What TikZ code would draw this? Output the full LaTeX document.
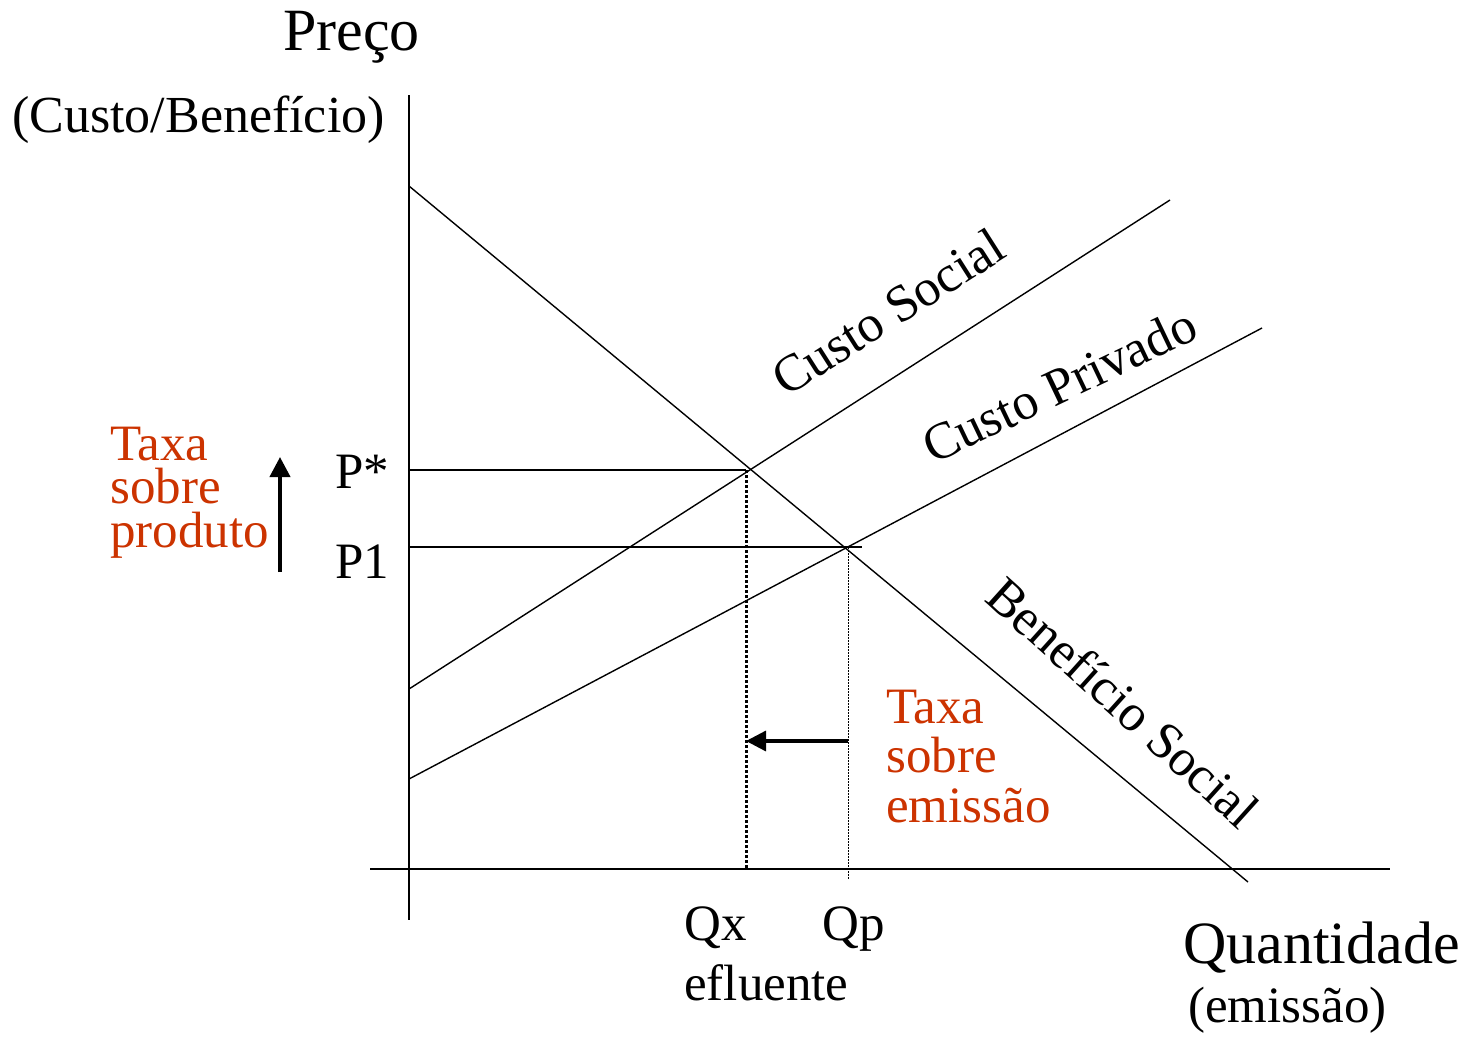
\documentclass[tikz,border=0pt]{standalone}
\usepackage{fontspec}
\setmainfont{Liberation Serif}
\usetikzlibrary{arrows.meta}
\definecolor{taxared}{RGB}{204,51,0}

\begin{document}
\begin{tikzpicture}[
      x=1pt, y=-1pt,
      every node/.style = {inner sep=0pt, anchor=base west, font=\fontsize{51}{51}\selectfont},
      axis/.style       = {line width=1.8pt},
      curve/.style      = {line width=1.4pt},
      level/.style      = {line width=1.4pt},
      taxa/.style       = {text=taxared, align=left},
      curvelabel/.style = {font=\fontsize{52}{52}\selectfont},
      taxarrow/.style   = {-{Triangle[length=20pt,width=20pt]}}
    ]
    \useasboundingbox[fill=white] (0,0) rectangle (1468,1042);

    % axes
    \coordinate (ytop)   at (409,95);
    \coordinate (ybot)   at (409,920);
    \coordinate (xleft)  at (370,869);
    \coordinate (xright) at (1390,869);
    \draw[axis] (ytop)  -- (ybot);
    \draw[axis] (xleft) -- (xright);

    % curves
    \coordinate (benstart)  at (409,186);
    \coordinate (benend)    at (1248,882);
    \coordinate (socstart)  at (409,689);
    \coordinate (socend)    at (1170,200);
    \coordinate (privstart) at (409,779);
    \coordinate (privend)   at (1262,328);
    \draw[curve] (benstart)  -- (benend);
    \draw[curve] (socstart)  -- (socend);
    \draw[curve] (privstart) -- (privend);

    % equilibria
    \coordinate (pstar)  at (746,470);
    \coordinate (pone)   at (848,547);
    \coordinate (pstary) at (409,470);
    \coordinate (poney)  at (409,547);
    \coordinate (poneend) at (862,547);
    \coordinate (qx)     at (746,869);
    \coordinate (qp)     at (848,880);
    \draw[level] (pstary) -- (pstar);
    \draw[level] (poney)  -- (poneend);
    \draw[line width=3pt, dash pattern=on 3pt off 2pt] (pstar) -- (qx);
    \draw[line width=0.9pt, dash pattern=on 1.5pt off 1.5pt] (pone) -- (qp);

    % taxes
    \coordinate (shiftfrom) at (848,741);
    \coordinate (shiftto)   at (746,741);
    \coordinate (riselow)   at (280,572);
    \coordinate (risehigh)  at (280,457);
    \draw[taxarrow, line width=3.3pt] (shiftfrom) -- (shiftto);
    \draw[taxarrow, line width=4pt]   (riselow)   -- (risehigh);

    % labels
    \node (preco)      at (283,50)   [font=\fontsize{60}{60}\selectfont] {Preço};
    \node (custben)    at (12,132)   [font=\fontsize{52}{52}\selectfont] {(Custo/Benefício)};
    \node (quant)      at (1183,963) [font=\fontsize{60}{60}\selectfont] {Quantidade};
    \node (emissao)    at (1188,1022)                                    {(emissão)};
    \node (pstarlabel) at (335,488)                                      {P*};
    \node (ponelabel)  at (335,578)                                      {P1};
    \node (qxlabel)    at (684,940)                                      {Qx};
    \node (qplabel)    at (822,940)                                      {Qp};
    \node (efluente)   at (684,1000)                                     {efluente};

    % multi-line nodes sit on the baseline of their last line
    \node (taxaprod) at (110,547) [taxa, font=\fontsize{51}{43.5}\selectfont] {Taxa\\sobre\\produto};
    \node (taxaemis) at (886,822) [taxa, font=\fontsize{51}{49.5}\selectfont] {Taxa\\sobre\\emissão};

    \node (soclabel)  at (786,398) [curvelabel, rotate=32.5] {Custo Social};
    \node (privlabel) at (933,465) [curvelabel, rotate=25.5] {Custo Privado};
    \node (benlabel)  at (983,600) [curvelabel, rotate=-42]  {Benefício Social};

  \end{tikzpicture}
\end{document}
